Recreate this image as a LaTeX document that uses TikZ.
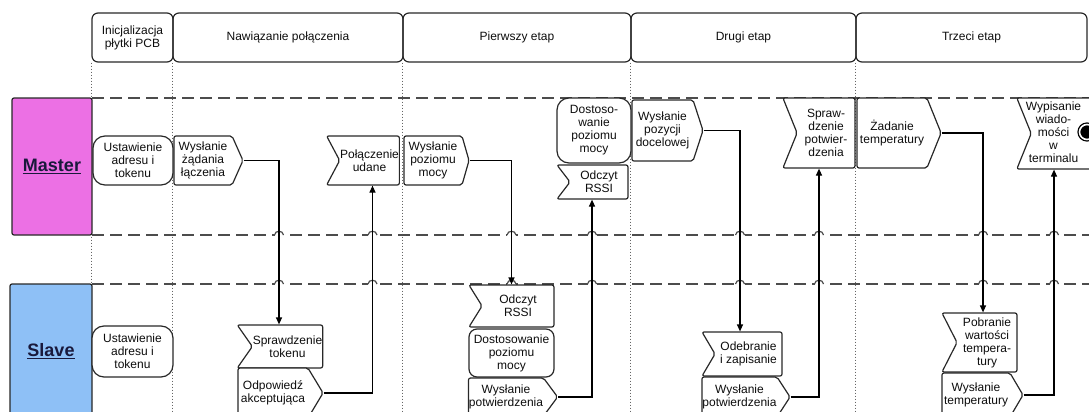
\documentclass[tikz,border=0pt]{standalone}
\usepackage{fontspec}
\setmainfont{Liberation Sans}
\usetikzlibrary{shapes.symbols,arrows.meta}
\definecolor{masterpink}{RGB}{236,112,228}
\definecolor{slaveblue}{RGB}{142,192,246}
\definecolor{pooltext}{RGB}{25,25,60}
\definecolor{edgegray}{RGB}{40,40,40}

\begin{document}
\begin{tikzpicture}[x=1pt,y=-1pt,
	font=\fontsize{12}{13}\selectfont,
	every node/.style={align=center,inner sep=0.5pt,text=black!95,line width=1.2pt},
	phase/.style={rectangle,draw=edgegray,rounded corners=6pt,minimum height=49pt},
	pool/.style={rectangle,draw=edgegray,rounded corners=2pt,text=pooltext,font=\fontsize{18}{20}\bfseries\selectfont},
	task/.style={rectangle,draw=edgegray,fill=white,rounded corners=#1},
	send/.style={signal,draw=edgegray,fill=white,signal to=east,signal pointer angle=#1,rounded corners=2pt},
	receive/.style={signal,draw=edgegray,fill=white,signal from=west,signal to=nowhere,signal pointer angle=#1,rounded corners=2pt},
	flow/.style={draw=black,line width=1.2pt,-{Triangle[length=7pt,width=6pt]}},
	lane/.style={draw=black!70,line width=1.2pt,dash pattern=on 12pt off 6pt},
	hop/.style={draw=black!70,line width=1.2pt},
	divider/.style={draw=black!60,line width=0.9pt,dash pattern=on 0.9pt off 2.1pt},
	endevent/.style={circle,draw=black,fill=black,double=white,double distance=1.6pt,line width=1.3pt,minimum size=15pt,inner sep=0pt}]
	\useasboundingbox (0,0) rectangle (1089,412);
	\clip (0,0) rectangle (1089,412);

	\node[phase,minimum width=81pt] (init) at (132.5,37.5) {Inicjalizacja\\płytki PCB};
	\node[phase,minimum width=230pt] (connect) at (288,37.5) {Nawiązanie połączenia};
	\node[phase,minimum width=228pt] (stage1) at (517,37.5) {Pierwszy etap};
	\node[phase,minimum width=225pt] (stage2) at (743.5,37.5) {Drugi etap};
	\node[phase,minimum width=231pt] (stage3) at (971.5,37.5) {Trzeci etap};

	\foreach \n in {init,connect,stage1,stage2,stage3}
		\draw[divider] (\n.south west) -- (\n.south west |- 0,412);
	\foreach \y in {98,235,284}
		\draw[lane] (92,\y) -- (1089,\y);
	\foreach \x in {279,372.5,511.5,592,740,819,983,1054}
		\foreach \y in {235,284} {
			\fill[white] (\x-4.5,\y-1) rectangle (\x+4.5,\y+1);
			\draw[hop] (\x-4.5,\y) .. controls (\x-4,\y-5) and (\x+4,\y-5) .. (\x+4.5,\y);
		}

	\node[pool,fill=masterpink,minimum width=80pt,minimum height=137pt] (master) at (52,166.5) {\underline{Master}};
	\node[pool,fill=slaveblue,minimum width=82pt,minimum height=134pt] (slave) at (51,351) {\underline{Slave}};

	\node[task=12pt,minimum width=80pt,minimum height=49pt] (m1) at (133,160.5) {Ustawienie\\adresu i\\tokenu};
	\node[send=132,minimum width=69pt,minimum height=49pt] (m2) at (203,160.5) {Wysłanie\\żądania\\łączenia};
	\node[receive=124,minimum width=72pt,minimum height=49pt] (m3) at (369.5,160.5) {Połączenie\\udane};
	\node[send=148,minimum width=65pt,minimum height=49pt] (m4) at (433,160.5) {Wysłanie\\poziomu\\mocy};
	\node[task=12pt,minimum width=74pt,minimum height=65pt] (m5) at (594,130.5) {Dostoso-\\wanie\\poziomu\\mocy};
	\node[receive=105,minimum width=71pt,minimum height=34pt] (m6) at (599,182) {Odczyt\\RSSI};
	\node[send=144,minimum width=71pt,minimum height=61pt] (m7) at (662.5,130.5) {Wysłanie\\pozycji\\docelowej};
	\node[receive=136,minimum width=72pt,minimum height=70pt] (m8) at (826,133) {Spraw-\\dzenie\\potwier-\\dzenia};
	\node[send=136,minimum width=84pt,minimum height=70pt] (m9) at (892,133) {Żadanie\\temperatury};
	\node[receive=136,minimum width=83pt,minimum height=71pt] (m10) at (1065.5,133.5) {\kern-12pt\begin{tabular}{@{}c@{}}Wypisanie\\wiado-\\mości\\w\\terminalu\end{tabular}\kern12pt};

	\node[task=12pt,minimum width=81pt,minimum height=51pt] (s1) at (132.5,351.5) {Ustawienie\\adresu i\\tokenu};
	\node[receive=110,minimum width=84pt,minimum height=43pt] (s2) at (287.5,346.5) {Sprawdzenie\\tokenu};
	\node[send=118,minimum width=85pt,minimum height=50pt] (s3) at (273,393) {Odpowiedź\\akceptująca};
	\node[receive=116,minimum width=85pt,minimum height=42pt] (s4) at (518,306) {Odczyt\\RSSI};
	\node[task=8pt,minimum width=85pt,minimum height=48pt] (s5) at (511.5,353) {Dostosowanie\\poziomu\\mocy};
	\node[send=107,minimum width=88pt,minimum height=38pt] (s6) at (506,397) {Wysłanie\\potwierdzenia};
	\node[receive=119,minimum width=80pt,minimum height=44pt] (s7) at (748.5,354) {Odebranie\\i zapisanie};
	\node[send=114,minimum width=88pt,minimum height=40pt] (s8) at (739.5,397) {Wysłanie\\potwierdzenia};
	\node[receive=126,minimum width=75pt,minimum height=59pt] (s9) at (987,342.5) {Pobranie\\wartości\\tempera-\\tury};
	\node[send=119,minimum width=81pt,minimum height=44pt] (s10) at (976,395) {Wysłanie\\temperatury};

	\node[endevent] (end) at (1087,132) {};

	\draw[flow] (m2.east) -| ([xshift=-8.5pt]s2.north);
	\draw[flow] (s3.east) -| ([xshift=3pt]m3.south);
	\draw[flow] (m4.east) -| ([xshift=-6.5pt]s4.north);
	\draw[flow] (s6.east) -| ([xshift=-7pt]m6.south);
	\draw[flow] (m7.east) -| ([xshift=-8.5pt]s7.north);
	\draw[flow] (s8.east) -| ([xshift=-7pt]m8.south);
	\draw[flow] (m9.east) -| ([xshift=-4pt]s9.north);
	\draw[flow] (s10.east) -| ([xshift=-11.5pt]m10.south);
\end{tikzpicture}
\end{document}
